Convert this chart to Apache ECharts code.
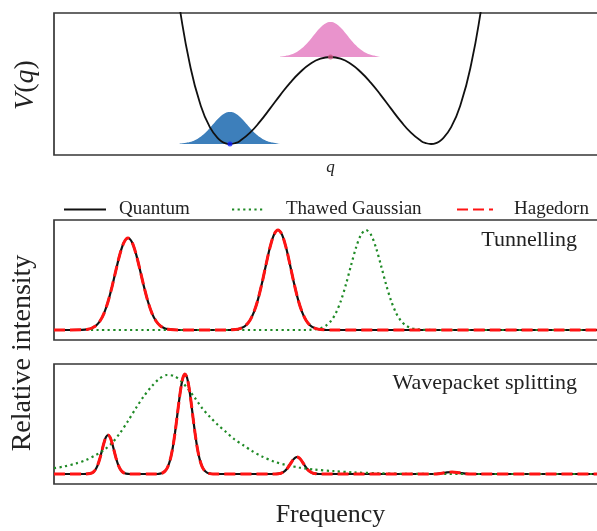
<!DOCTYPE html>
<html>
<head>
<meta charset="utf-8">
<script src="https://cdn.jsdelivr.net/npm/echarts@6/dist/echarts.min.js"></script>
<style>
  html, body { margin: 0; padding: 0; background: #ffffff; }
  #chart { width: 597px; height: 531px; }
</style>
</head>
<body>
<div id="chart"></div>
<script>
// ---- Double-well potential V(q) ----
const potQ = [-1.55, -1.5, -1.4, -1.3, -1.2, -1.1, -1.05, -1.0, -0.95, -0.9, -0.8, -0.7, -0.6, -0.5, -0.4, -0.3, -0.2, -0.1, 0,
              0.1, 0.2, 0.3, 0.4, 0.5, 0.6, 0.7, 0.8, 0.9, 0.95, 1.0, 1.05, 1.1, 1.2, 1.3, 1.4, 1.5, 1.55];
const potV = [1.711, 1.359, 0.802, 0.414, 0.168, 0.038, 0.009, 0, 0.008, 0.031, 0.113, 0.226, 0.356, 0.489, 0.614, 0.720, 0.802, 0.853, 0.870,
              0.853, 0.802, 0.720, 0.614, 0.489, 0.356, 0.226, 0.113, 0.031, 0.008, 0, 0.009, 0.038, 0.168, 0.414, 0.802, 1.359, 1.711];

// Initial wavepackets: one in the left well, one on top of the barrier
const wellPacketQ = [-1.5, -1.45, -1.4, -1.35, -1.3, -1.25, -1.2, -1.15, -1.1, -1.05, -1.0,
                     -0.95, -0.9, -0.85, -0.8, -0.75, -0.7, -0.65, -0.6, -0.55, -0.5];
const wellPacketV = [0.004, 0.010, 0.020, 0.038, 0.068, 0.108, 0.160, 0.217, 0.269, 0.307, 0.320,
                     0.307, 0.269, 0.217, 0.160, 0.108, 0.068, 0.038, 0.020, 0.010, 0.004];
const barrierPacketQ = [-0.5, -0.45, -0.4, -0.35, -0.3, -0.25, -0.2, -0.15, -0.1, -0.05, 0,
                        0.05, 0.1, 0.15, 0.2, 0.25, 0.3, 0.35, 0.4, 0.45, 0.5];
const barrierPacketV = [0.875, 0.881, 0.892, 0.912, 0.944, 0.989, 1.045, 1.107, 1.164, 1.205, 1.220,
                        1.205, 1.164, 1.107, 1.045, 0.989, 0.944, 0.912, 0.892, 0.881, 0.875];
const barrierTop = 0.87;

// ---- Tunnelling spectra ----
const tunFreq = [0, 28, 34, 38, 42, 46, 50, 54, 58, 62, 66, 70, 74, 78, 82, 86, 90, 94, 98, 102, 106, 110, 114, 120, 126,
                 172, 178, 184, 188, 192, 196, 200, 204, 208, 212, 216, 220, 224, 228, 232, 236, 240, 244, 248, 252, 256, 260, 264, 270, 276, 560];
const tunQuantum = [0, 0.002, 0.008, 0.02, 0.044, 0.09, 0.167, 0.282, 0.432, 0.601, 0.761, 0.877, 0.92, 0.877, 0.761, 0.601, 0.432, 0.282, 0.167, 0.09, 0.044, 0.02, 0.008, 0.002, 0,
                    0, 0.002, 0.009, 0.022, 0.048, 0.098, 0.182, 0.306, 0.469, 0.653, 0.827, 0.954, 1.0, 0.954, 0.827, 0.653, 0.469, 0.306, 0.182, 0.098, 0.048, 0.022, 0.009, 0.002, 0, 0];
const tunHagedorn = tunQuantum.slice();
const tunThawedFreq = [37, 250, 256, 262, 267, 272, 277, 282, 287, 292, 297, 302, 307, 312, 317, 322, 327, 332, 337, 342, 347, 352, 357, 362, 368, 380, 560];
const tunThawed = [0, 0, 0.002, 0.008, 0.019, 0.044, 0.091, 0.172, 0.295, 0.458, 0.645, 0.823, 0.952, 1.0, 0.952, 0.823, 0.645, 0.458, 0.295, 0.172, 0.091, 0.044, 0.019, 0.008, 0.002, 0, 0];

// ---- Wavepacket-splitting spectra ----
const splitFreq = [0, 30, 36, 38, 40, 42, 44, 46, 48, 50, 52, 54, 56, 58, 60, 62, 64, 66, 68, 70, 72, 76,
                   103, 107, 109, 111, 113, 115, 117, 119, 121, 123, 125, 127, 129, 131, 133, 135, 137, 139, 141, 143, 145, 147, 149, 151, 153, 155, 159,
                   221, 225, 227, 229, 231, 233, 235, 237, 239, 241, 243, 245, 247, 249, 251, 253, 255, 257, 259, 261, 265,
                   380, 388, 393, 398, 403, 408, 416, 560];
const splitQuantum = [0, 0, 0.004, 0.011, 0.026, 0.053, 0.097, 0.16, 0.237, 0.312, 0.369, 0.39, 0.369, 0.312, 0.237, 0.16, 0.097, 0.053, 0.026, 0.011, 0.004, 0,
                      0, 0.006, 0.014, 0.029, 0.056, 0.103, 0.175, 0.278, 0.411, 0.566, 0.726, 0.867, 0.965, 1.0, 0.965, 0.867, 0.726, 0.566, 0.411, 0.278, 0.175, 0.103, 0.056, 0.029, 0.014, 0.006, 0,
                      0, 0.004, 0.008, 0.017, 0.031, 0.052, 0.08, 0.111, 0.141, 0.162, 0.17, 0.162, 0.141, 0.111, 0.08, 0.052, 0.031, 0.017, 0.008, 0.004, 0,
                      0, 0.008, 0.016, 0.02, 0.016, 0.008, 0, 0];
const splitHagedorn = splitQuantum.slice();
const splitThawedFreq = [0, 10, 22, 32, 41, 50, 58, 66, 74, 82, 90, 98, 105, 113, 120, 127, 134, 141, 148, 156, 164, 172, 180, 189,
                         198, 208, 220, 232, 245, 260, 280, 300, 325, 350, 380, 560];
const splitThawed = [0.058, 0.075, 0.105, 0.14, 0.185, 0.24, 0.31, 0.41, 0.53, 0.66, 0.78, 0.88, 0.95, 0.99, 0.98, 0.93, 0.85, 0.76, 0.66, 0.57, 0.49, 0.42, 0.35, 0.29,
                     0.23, 0.175, 0.125, 0.09, 0.065, 0.045, 0.028, 0.016, 0.007, 0.002, 0, 0];

const pairs = (xs, ys) => xs.map((x, i) => [x, ys[i]]);

const SERIF = '"Liberation Serif", "Times New Roman", serif';
const TEXT = '#222222';
const BORDER = '#363636';
const QUANTUM = { color: '#111111', width: 2.2, type: 'solid' };
const THAWED = { color: '#1f8a26', width: 2.2, type: [2.2, 3.4], cap: 'butt' };
const HAGEDORN = { color: '#ff1414', width: 3, type: [11, 5], cap: 'butt' };

const hiddenAxis = {
  axisLine: { show: false }, axisTick: { show: false },
  axisLabel: { show: false }, splitLine: { show: false }
};
const gridBase = { left: 54, right: -10, show: true, borderColor: BORDER, borderWidth: 1.7,
                   backgroundColor: 'transparent', outerBoundsMode: 'none', containLabel: false };

function spectrum(name, grid, xs, ys, style, z) {
  return {
    name, type: 'line', xAxisIndex: grid, yAxisIndex: grid,
    data: pairs(xs, ys), symbol: 'none', smooth: 0.3, z,
    lineStyle: style, itemStyle: { color: style.color }, animation: false
  };
}

// legend entries show only the line sample, no marker
function legendFor(name, left, itemWidth, gap) {
  return {
    data: [name], left, top: 195, itemWidth, itemHeight: 14,
    itemStyle: { opacity: 0, borderWidth: 0 },
    textStyle: { fontFamily: SERIF, fontSize: 19, color: TEXT, padding: [0, 0, 0, gap] }
  };
}

const chart = echarts.init(document.getElementById('chart'), null, { renderer: 'canvas' });

chart.setOption({
  animation: false,
  backgroundColor: '#ffffff',
  grid: [
    Object.assign({ top: 13, height: 142 }, gridBase),
    Object.assign({ top: 220, height: 120 }, gridBase),
    Object.assign({ top: 364, height: 120 }, gridBase)
  ],
  xAxis: [
    Object.assign({ type: 'value', gridIndex: 0, min: -2.75, max: 2.75,
      name: 'q', nameLocation: 'middle', nameGap: 4,
      nameTextStyle: { fontFamily: SERIF, fontStyle: 'italic', fontSize: 17, color: TEXT } }, hiddenAxis),
    Object.assign({ type: 'value', gridIndex: 1, min: 0, max: 553 }, hiddenAxis),
    Object.assign({ type: 'value', gridIndex: 2, min: 0, max: 553,
      name: 'Frequency', nameLocation: 'middle', nameGap: 18,
      nameTextStyle: { fontFamily: SERIF, fontSize: 26, color: TEXT } }, hiddenAxis)
  ],
  yAxis: [
    Object.assign({ type: 'value', gridIndex: 0, min: -0.11, max: 1.31 }, hiddenAxis),
    Object.assign({ type: 'value', gridIndex: 1, min: -0.1, max: 1.1 }, hiddenAxis),
    Object.assign({ type: 'value', gridIndex: 2, min: -0.1, max: 1.1 }, hiddenAxis)
  ],
  legend: [
    legendFor('Quantum', 58, 42, 8),
    legendFor('Thawed Gaussian', 226, 32, 17),
    legendFor('Hagedorn', 451, 36, 16)
  ],
  graphic: [
    { type: 'text', x: 26, y: 85, rotation: Math.PI / 2,
      style: { text: '{i|V}({i|q})', align: 'center', verticalAlign: 'middle',
               fontFamily: SERIF, fontSize: 28, fill: TEXT,
               rich: { i: { fontFamily: SERIF, fontStyle: 'italic', fontSize: 28, fill: TEXT } } } },
    { type: 'text', x: 23, y: 353, rotation: Math.PI / 2,
      style: { text: 'Relative intensity', align: 'center', verticalAlign: 'middle',
               fontFamily: SERIF, fontSize: 28, fill: TEXT } },
    { type: 'text', x: 577, y: 240,
      style: { text: 'Tunnelling', align: 'right', verticalAlign: 'middle',
               fontFamily: SERIF, fontSize: 22, fill: TEXT } },
    { type: 'text', x: 577, y: 383,
      style: { text: 'Wavepacket splitting', align: 'right', verticalAlign: 'middle',
               fontFamily: SERIF, fontSize: 22, fill: TEXT } }
  ],
  series: [
    {
      name: 'left-well packet', type: 'line', xAxisIndex: 0, yAxisIndex: 0,
      data: pairs(wellPacketQ, wellPacketV), symbol: 'none', smooth: true, z: 1,
      lineStyle: { width: 0 }, areaStyle: { color: '#3d7fbb', opacity: 1 }
    },
    {
      name: 'barrier packet', type: 'line', xAxisIndex: 0, yAxisIndex: 0,
      data: pairs(barrierPacketQ, barrierPacketV), symbol: 'none', smooth: true, z: 1,
      lineStyle: { width: 0 }, areaStyle: { color: '#e993cc', opacity: 1, origin: barrierTop }
    },
    {
      name: 'potential', type: 'line', xAxisIndex: 0, yAxisIndex: 0,
      data: pairs(potQ, potV), symbol: 'none', smooth: true, z: 3,
      lineStyle: { color: '#111111', width: 1.8 }
    },
    {
      name: 'packet centres', type: 'scatter', xAxisIndex: 0, yAxisIndex: 0, z: 4,
      symbolSize: 5,
      data: [
        { value: [wellPacketQ[10], 0], itemStyle: { color: '#1020ff' } },
        { value: [barrierPacketQ[10], barrierTop], itemStyle: { color: '#c8507a' } }
      ]
    },
    spectrum('Quantum', 1, tunFreq, tunQuantum, QUANTUM, 2),
    spectrum('Thawed Gaussian', 1, tunThawedFreq, tunThawed, THAWED, 3),
    spectrum('Hagedorn', 1, tunFreq, tunHagedorn, HAGEDORN, 4),
    spectrum('Quantum', 2, splitFreq, splitQuantum, QUANTUM, 2),
    spectrum('Thawed Gaussian', 2, splitThawedFreq, splitThawed, THAWED, 3),
    spectrum('Hagedorn', 2, splitFreq, splitHagedorn, HAGEDORN, 4)
  ]
});
</script>
</body>
</html>
